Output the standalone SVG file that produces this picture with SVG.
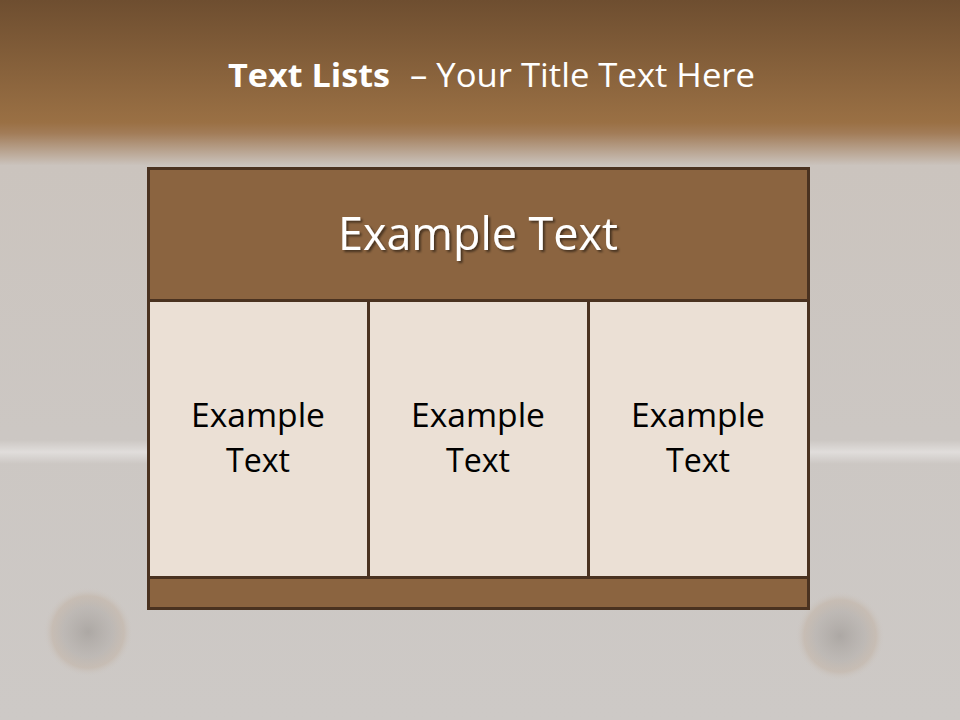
<svg xmlns="http://www.w3.org/2000/svg" width="960" height="720" viewBox="0 0 960 720">
<defs>
<linearGradient id="bg" x1="0" y1="0" x2="0" y2="1">
<stop offset="0" stop-color="#6e4e30"/>
<stop offset="0.17" stop-color="#9a7044"/>
<stop offset="0.185" stop-color="#a27c58"/>
<stop offset="0.23" stop-color="#cbc4be"/>
<stop offset="0.6" stop-color="#ccc7c3"/>
<stop offset="1" stop-color="#cdc9c6"/>
</linearGradient>
<linearGradient id="band" x1="0" y1="0" x2="0" y2="1">
<stop offset="0" stop-color="#ffffff" stop-opacity="0"/>
<stop offset="0.5" stop-color="#ffffff" stop-opacity="0.4"/>
<stop offset="1" stop-color="#ffffff" stop-opacity="0"/>
</linearGradient>
<radialGradient id="rivet" cx="0.5" cy="0.5" r="0.5">
<stop offset="0" stop-color="#85807c" stop-opacity="0.45"/>
<stop offset="0.55" stop-color="#9a948f" stop-opacity="0.3"/>
<stop offset="0.8" stop-color="#b59a80" stop-opacity="0.25"/>
<stop offset="1" stop-color="#cdc9c6" stop-opacity="0"/>
</radialGradient>
<filter id="sh" x="-10%" y="-30%" width="120%" height="160%">
<feDropShadow dx="2" dy="2" stdDeviation="1.2" flood-color="#000" flood-opacity="0.5"/>
</filter>
</defs>
<style>
.cell{fill:#ebe0d5;stroke:#4a3220;stroke-width:3}
.dark{fill:#8b6440;stroke:#4a3220;stroke-width:3}
.f{font-family:"Open Sans","Liberation Sans",sans-serif}
.ct{font-size:33px;fill:#000;text-anchor:middle}
</style>
<rect width="960" height="720" fill="url(#bg)"/>
<rect x="0" y="440" width="960" height="24" fill="url(#band)"/>
<circle cx="88" cy="632" r="45" fill="url(#rivet)"/>
<circle cx="840" cy="636" r="45" fill="url(#rivet)"/>
<g id="title">
<text class="f" x="228" y="87" font-size="33" font-weight="bold" fill="#fff" textLength="162" lengthAdjust="spacingAndGlyphs">Text Lists</text>
<text class="f" x="410" y="87" font-size="33" fill="#fff" textLength="345" lengthAdjust="spacingAndGlyphs">– Your Title Text Here</text>
</g>
<g id="table">
<g id="header">
<rect class="dark" x="148.5" y="168.5" width="660" height="132"/>
<text class="f" x="338" y="250" font-size="45" fill="#fff" filter="url(#sh)" textLength="280" lengthAdjust="spacingAndGlyphs">Example Text</text>
</g>
<g id="cell1">
<rect class="cell" x="148.5" y="300.5" width="220" height="277"/>
<text class="f ct" x="258" y="427" textLength="134" lengthAdjust="spacingAndGlyphs">Example</text>
<text class="f ct" x="258" y="472" textLength="64" lengthAdjust="spacingAndGlyphs">Text</text>
</g>
<g id="cell2">
<rect class="cell" x="368.5" y="300.5" width="220" height="277"/>
<text class="f ct" x="478" y="427" textLength="134" lengthAdjust="spacingAndGlyphs">Example</text>
<text class="f ct" x="478" y="472" textLength="64" lengthAdjust="spacingAndGlyphs">Text</text>
</g>
<g id="cell3">
<rect class="cell" x="588.5" y="300.5" width="220" height="277"/>
<text class="f ct" x="698" y="427" textLength="134" lengthAdjust="spacingAndGlyphs">Example</text>
<text class="f ct" x="698" y="472" textLength="64" lengthAdjust="spacingAndGlyphs">Text</text>
</g>
<g id="footer">
<rect class="dark" x="148.5" y="577.5" width="660" height="31" fill="#926840"/>
</g>
</g>
</svg>
